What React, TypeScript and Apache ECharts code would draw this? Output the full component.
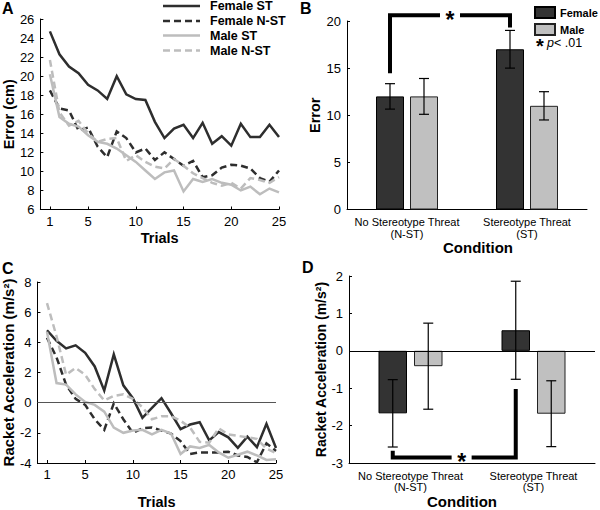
import React, { useEffect, useRef } from 'react';
import * as echarts from 'echarts';

// ---------- data ----------
const trials = [1, 2, 3, 4, 5, 6, 7, 8, 9, 10, 11, 12, 13, 14, 15, 16, 17, 18, 19, 20, 21, 22, 23, 24, 25];
const trialTicks = [1, 5, 10, 15, 20, 25];

const errFemaleST = [24.7, 22.3, 21.0, 20.3, 19.1, 18.5, 17.6, 20.0, 18.1, 17.6, 17.5, 15.2, 13.5, 14.5, 14.9, 13.5, 15.1, 12.9, 13.7, 12.7, 15.0, 13.6, 13.6, 14.9, 13.6];
const errFemaleNST = [18.5, 16.6, 16.4, 14.3, 14.6, 12.6, 11.5, 14.2, 13.5, 12.0, 12.4, 11.2, 12.0, 11.3, 10.6, 11.1, 9.4, 9.6, 10.4, 10.7, 10.6, 10.3, 9.3, 8.9, 10.1];
const errMaleST = [20.2, 15.7, 15.0, 14.7, 13.8, 13.1, 12.9, 12.4, 11.7, 11.0, 10.1, 9.2, 9.9, 10.1, 7.9, 9.2, 8.9, 9.2, 8.8, 8.6, 8.0, 8.4, 7.6, 8.2, 7.8];
const errMaleNST = [21.7, 16.2, 14.8, 15.3, 14.0, 13.1, 13.4, 13.5, 11.1, 11.7, 11.0, 10.5, 10.3, 11.3, 10.6, 9.8, 9.3, 8.8, 8.5, 8.8, 8.2, 9.3, 9.1, 8.8, 9.4];

const accFemaleST = [4.8, 4.1, 3.6, 3.8, 3.3, 2.4, 0.8, 3.2, 1.15, 0.3, -1.0, -0.35, 0.3, -0.7, -1.75, -1.45, -1.3, -2.5, -1.95, -2.3, -3.0, -2.25, -2.95, -1.4, -3.0];
const accFemaleNST = [4.3, 3.0, 1.2, 0.25, -0.15, -1.1, -1.8, -0.05, -1.1, -2.0, -1.7, -1.65, -1.85, -2.05, -2.55, -3.4, -3.3, -3.3, -3.3, -3.25, -3.5, -3.6, -3.95, -2.7, -3.2];
const accMaleST = [4.7, 1.3, 1.2, 0.55, 0.05, -0.15, -0.6, -1.65, -2.0, -1.85, -1.8, -2.1, -1.8, -2.05, -3.4, -2.9, -3.0, -2.8, -3.3, -3.65, -3.45, -3.25, -3.5, -3.8, -3.75];
const accMaleNST = [6.6, 4.4, 1.85, 2.3, 1.85, 0.9, 0.15, 0.45, 0.55, 0.25, -0.3, -1.1, -0.9, -0.9, -1.2, -1.65, -2.6, -2.65, -1.7, -2.1, -2.2, -2.3, -2.4, -3.05, -3.35];

const conditions = ['No Stereotype Threat', 'Stereotype Threat'];
const conditionAbbr = ['(N-ST)', '(ST)'];

const barErrFemale = [12, 17];
const barErrFemaleSE = [1.35, 2.0];
const barErrMale = [12, 11];
const barErrMaleSE = [1.9, 1.5];

const barAccFemale = [-1.67, 0.55];
const barAccFemaleSE = [0.9, 1.31];
const barAccMale = [-0.41, -1.68];
const barAccMaleSE = [1.15, 0.88];

// significance brackets: [fromCat, toCat, bracketY, leftEndY, rightEndY, starFraction]
const bracketB = [[0, 1, 20.6, 14.45, 19.3, 0.5]];
const bracketD = [[0, 1, -2.85, -2.67, -1.02, 0.56]];

const seriesNames = ['Female ST', 'Female N-ST', 'Male ST', 'Male N-ST'];

// ---------- styles ----------
const FONT = '"Liberation Sans", Arial, Helvetica, sans-serif';
const DARK = '#2e2e2e';
const LIGHT = '#bdbdbd';
const BAR_DARK = '#333333';
const BAR_LIGHT = '#c0c0c0';
const LW = 2.5;
const DASH = [7, 4];
const seriesColors = [DARK, DARK, LIGHT, LIGHT];
const seriesDashed = [false, true, false, true];

const BAR_W_B = 28;
const BAR_GAP_B = 6;
const BAR_W_D = 28.5;
const BAR_GAP_D = 7;

function lineSeries(k: number, data: number[], idx: number) {
  const color = seriesColors[k];
  return {
    type: 'line',
    name: seriesNames[k],
    xAxisIndex: idx,
    yAxisIndex: idx,
    data: trials.map((t, i) => [t, data[i]]),
    symbol: 'none',
    showSymbol: false,
    lineStyle: { color, width: LW, type: seriesDashed[k] ? DASH : 'solid', cap: 'butt', join: 'miter' },
    itemStyle: { color },
    silent: true,
  };
}

function errorBarSeries(idx: number, means: number[], ses: number[], side: number, barW: number, gap: number) {
  return {
    type: 'custom',
    xAxisIndex: idx,
    yAxisIndex: idx,
    silent: true,
    clip: false,
    z: 5,
    encode: { x: 0, y: 1 },
    data: means.map((m, i) => [i, m, ses[i], side]),
    renderItem: (params: any, api: any) => {
      const i = api.value(0);
      const v = api.value(1);
      const e = api.value(2);
      const s = api.value(3);
      const top = api.coord([i, v + e]);
      const bot = api.coord([i, v - e]);
      const x = top[0] + (s * (barW + gap)) / 2;
      const st = { stroke: '#000', lineWidth: 1.2 };
      const cap = 5;
      return {
        type: 'group',
        children: [
          { type: 'line', shape: { x1: x, y1: top[1], x2: x, y2: bot[1] }, style: st },
          { type: 'line', shape: { x1: x - cap, y1: top[1], x2: x + cap, y2: top[1] }, style: st },
          { type: 'line', shape: { x1: x - cap, y1: bot[1], x2: x + cap, y2: bot[1] }, style: st },
        ],
      };
    },
  };
}

function bracketSeries(idx: number, data: number[][], barW: number, gap: number) {
  const off = (barW + gap) / 2;
  return {
    type: 'custom',
    xAxisIndex: idx,
    yAxisIndex: idx,
    silent: true,
    clip: false,
    z: 10,
    encode: { x: 0, y: 2 },
    data,
    renderItem: (params: any, api: any) => {
      const l = api.coord([api.value(0), api.value(2)]);
      const r = api.coord([api.value(1), api.value(2)]);
      const lEnd = api.coord([api.value(0), api.value(3)]);
      const rEnd = api.coord([api.value(1), api.value(4)]);
      const xl = l[0] - off;
      const xr = r[0] - off;
      const y = l[1];
      const xs = xl + api.value(5) * (xr - xl);
      const g = 10;
      const st = { stroke: '#000', lineWidth: 4, fill: null, lineJoin: 'miter', lineCap: 'butt' };
      return {
        type: 'group',
        children: [
          { type: 'polyline', shape: { points: [[xl, lEnd[1]], [xl, y], [xs - g, y]] }, style: st },
          { type: 'polyline', shape: { points: [[xs + g, y], [xr, y], [xr, rEnd[1]]] }, style: st },
          {
            type: 'text',
            x: xs,
            y: y + 5,
            style: {
              text: '*',
              fill: '#000',
              fontSize: 23,
              lineHeight: 10,
              fontWeight: 'bold',
              fontFamily: FONT,
              align: 'center',
              verticalAlign: 'middle',
            },
          },
        ],
      };
    },
  };
}

const tickLabel = { color: '#000', fontSize: 13, fontFamily: FONT };
const nameStyle = { color: '#000', fontSize: 14.5, fontWeight: 'bold', fontFamily: FONT };
const axisLine = { show: true, onZero: false, lineStyle: { color: '#000', width: 1 } };

function trialAxis(idx: number, nameGap: number) {
  return {
    type: 'value',
    gridIndex: idx,
    min: 0,
    max: 25,
    name: 'Trials',
    nameLocation: 'middle',
    nameGap,
    nameTextStyle: nameStyle,
    axisLine,
    axisTick: { show: true, inside: true, length: 3, customValues: trialTicks, lineStyle: { color: '#000' } },
    axisLabel: { ...tickLabel, margin: 5, customValues: trialTicks },
    splitLine: { show: false },
  };
}

function condAxis(idx: number, nameGap: number, namePad: number[]) {
  return {
    type: 'category',
    gridIndex: idx,
    data: conditions,
    name: 'Condition',
    nameLocation: 'middle',
    nameGap,
    nameTextStyle: { ...nameStyle, fontSize: 15, padding: namePad },
    axisLine,
    axisTick: { show: false },
    axisLabel: {
      color: '#000',
      fontSize: 11,
      fontFamily: FONT,
      margin: 7,
      lineHeight: 11.5,
      interval: 0,
      formatter: (v: string, i: number) => v + '\n' + conditionAbbr[i],
    },
  };
}

function valAxis(idx: number, min: number, max: number, interval: number, name: string, nameGap: number, fontSize: number) {
  return {
    type: 'value',
    gridIndex: idx,
    min,
    max,
    interval,
    name,
    nameLocation: 'middle',
    nameGap,
    nameTextStyle: { ...nameStyle, fontSize },
    axisLine,
    axisTick: { show: true, inside: true, length: 3, lineStyle: { color: '#000' } },
    axisLabel: { ...tickLabel, margin: 6 },
    splitLine: { show: false },
  };
}

function letter(t: string, x: number, y: number) {
  return {
    type: 'text',
    x,
    y,
    style: { text: t, fill: '#000', fontSize: 16, fontWeight: 'bold', fontFamily: FONT, align: 'left', verticalAlign: 'middle' },
  };
}

// legend for panel A, drawn as line samples + bold labels
function legendA() {
  const rowsY = [6, 21, 35.5, 50.5];
  const children: any[] = [];
  seriesNames.forEach((n, k) => {
    children.push({
      type: 'line',
      shape: { x1: 163, y1: rowsY[k], x2: 200, y2: rowsY[k] },
      style: { stroke: seriesColors[k], lineWidth: LW, lineDash: seriesDashed[k] ? DASH : null },
    });
    children.push({
      type: 'text',
      x: 210,
      y: rowsY[k],
      style: { text: n, fill: '#000', fontSize: 12.5, fontWeight: 'bold', fontFamily: FONT, align: 'left', verticalAlign: 'middle' },
    });
  });
  return { type: 'group', children };
}

export default function App() {
  const ref = useRef<HTMLDivElement>(null);
  useEffect(() => {
    if (!ref.current) return;
    const chart = echarts.init(ref.current, undefined, { renderer: 'svg' });
    const option: any = {
      animation: false,
      backgroundColor: '#fff',
      textStyle: { fontFamily: FONT },
      grid: [
        { left: 39, top: 19, width: 240, height: 190.5 },
        { left: 347, top: 21, width: 240, height: 188.5 },
        { left: 36, top: 282, width: 240, height: 188 },
        { left: 349, top: 276, width: 246, height: 194 },
      ],
      xAxis: [
        trialAxis(0, 21),
        condAxis(1, 21, [0, 0, 0, 22]),
        trialAxis(2, 31),
        condAxis(3, 23, [0, 20, 0, 0]),
      ],
      yAxis: [
        valAxis(0, 6, 26, 2, 'Error (cm)', 22, 14.5),
        valAxis(1, 0, 20, 5, 'Error', 25, 14.5),
        valAxis(2, -4, 8, 2, 'Racket Acceleration (m/s²)', 18, 15),
        valAxis(3, -3, 2, 1, 'Racket Acceleration (m/s²)', 21, 14),
      ],
      legend: [
        {
          data: ['Female', 'Male'],
          orient: 'vertical',
          left: 529,
          top: 1,
          itemWidth: 20,
          itemHeight: 11,
          itemGap: 4,
          icon: 'rect',
          selectedMode: false,
          textStyle: { color: '#000', fontSize: 11, fontWeight: 'bold', fontFamily: FONT },
        },
      ],
      graphic: [
        letter('A', 2, 8),
        letter('B', 300, 8),
        letter('C', 2, 268),
        letter('D', 302, 267),
        legendA(),
        {
          type: 'text',
          x: 536,
          y: 43,
          style: {
            text: '{s|*} {p|p}{t|< .01}',
            verticalAlign: 'middle',
            rich: {
              s: { fontSize: 20, fontWeight: 'bold', fontFamily: FONT, fill: '#000', padding: [6, 0, 0, 0] },
              p: { fontSize: 12.5, fontStyle: 'italic', fontFamily: FONT, fill: '#000' },
              t: { fontSize: 12.5, fontFamily: FONT, fill: '#000' },
            },
          },
        },
      ],
      series: [
        lineSeries(0, errFemaleST, 0),
        lineSeries(1, errFemaleNST, 0),
        lineSeries(2, errMaleST, 0),
        lineSeries(3, errMaleNST, 0),

        {
          ...lineSeries(0, accFemaleST, 2),
          markLine: {
            silent: true,
            symbol: 'none',
            label: { show: false },
            lineStyle: { color: '#555', width: 1, type: 'solid' },
            data: [{ yAxis: 0 }],
          },
        },
        lineSeries(1, accFemaleNST, 2),
        lineSeries(2, accMaleST, 2),
        lineSeries(3, accMaleNST, 2),

        {
          type: 'bar',
          name: 'Female',
          xAxisIndex: 1,
          yAxisIndex: 1,
          data: barErrFemale,
          barWidth: BAR_W_B,
          barGap: (BAR_GAP_B / BAR_W_B) * 100 + '%',
          itemStyle: { color: BAR_DARK, borderColor: '#000', borderWidth: 1 },
          silent: true,
        },
        {
          type: 'bar',
          name: 'Male',
          xAxisIndex: 1,
          yAxisIndex: 1,
          data: barErrMale,
          barWidth: BAR_W_B,
          barGap: (BAR_GAP_B / BAR_W_B) * 100 + '%',
          itemStyle: { color: BAR_LIGHT, borderColor: '#222', borderWidth: 1 },
          silent: true,
        },
        errorBarSeries(1, barErrFemale, barErrFemaleSE, -1, BAR_W_B, BAR_GAP_B),
        errorBarSeries(1, barErrMale, barErrMaleSE, 1, BAR_W_B, BAR_GAP_B),
        bracketSeries(1, bracketB, BAR_W_B, BAR_GAP_B),

        {
          type: 'bar',
          name: 'Female',
          xAxisIndex: 3,
          yAxisIndex: 3,
          data: barAccFemale,
          barWidth: BAR_W_D,
          barGap: (BAR_GAP_D / BAR_W_D) * 100 + '%',
          itemStyle: { color: BAR_DARK, borderColor: '#000', borderWidth: 1 },
          silent: true,
          markLine: {
            silent: true,
            symbol: 'none',
            label: { show: false },
            lineStyle: { color: '#000', width: 1, type: 'solid' },
            data: [{ yAxis: 0 }],
          },
        },
        {
          type: 'bar',
          name: 'Male',
          xAxisIndex: 3,
          yAxisIndex: 3,
          data: barAccMale,
          barWidth: BAR_W_D,
          barGap: (BAR_GAP_D / BAR_W_D) * 100 + '%',
          itemStyle: { color: BAR_LIGHT, borderColor: '#222', borderWidth: 1 },
          silent: true,
        },
        errorBarSeries(3, barAccFemale, barAccFemaleSE, -1, BAR_W_D, BAR_GAP_D),
        errorBarSeries(3, barAccMale, barAccMaleSE, 1, BAR_W_D, BAR_GAP_D),
        bracketSeries(3, bracketD, BAR_W_D, BAR_GAP_D),
      ],
    };
    chart.setOption(option);
    return () => chart.dispose();
  }, []);
  return (
    <div
      ref={ref}
      style={{ position: 'fixed', left: 0, top: 0, width: 600, height: 510, background: '#fff' }}
    />
  );
}
